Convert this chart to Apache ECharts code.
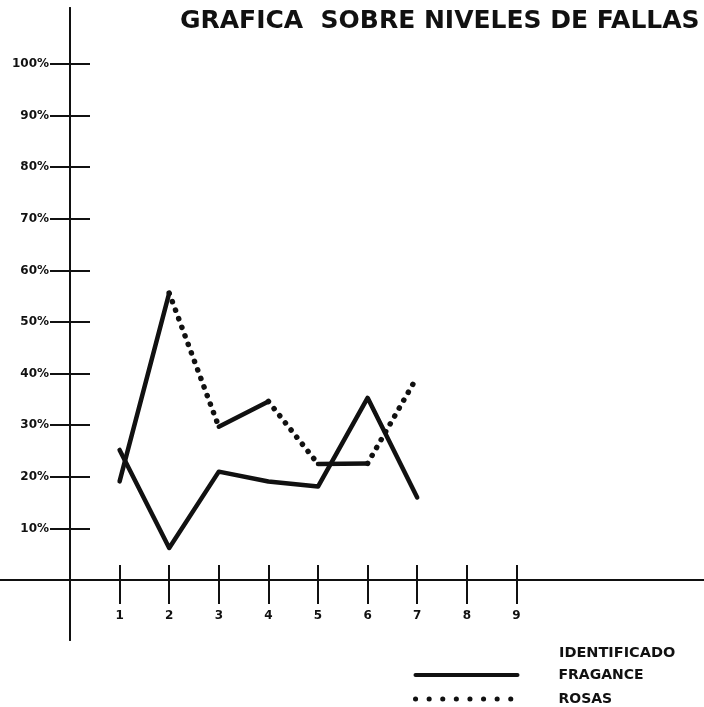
<!DOCTYPE html>
<html>
<head>
<meta charset="utf-8">
<script src="https://cdn.jsdelivr.net/npm/echarts@6/dist/echarts.min.js"></script>
<style>
html,body{margin:0;padding:0;background:#fff;}
#chart{width:704px;height:707px;}
</style>
</head>
<body>
<div id="chart"></div>
<script>
// ---- data ----
const titleText = 'GRAFICA  SOBRE NIVELES DE FALLAS';
const legendTitle = 'IDENTIFICADO';
const xValues = [1, 2, 3, 4, 5, 6, 7];
const xTickValues = [1, 2, 3, 4, 5, 6, 7, 8, 9];
const yTickValues = [10, 20, 30, 40, 50, 60, 70, 80, 90, 100];
const fragance = [25.2, 6.2, 21.0, 19.1, 18.1, 35.3, 16.0];
const rosas = [19.1, 55.6, 29.7, 34.6, 22.5, 22.6, 39.4];
// stroke used for each segment of the ROSAS line as drawn by hand
const rosasSegmentTypes = ['solid', 'dotted', 'solid', 'dotted', 'solid', 'dotted'];

// ---- layout ----
const INK = '#111';
const FONT = 'DejaVu Sans';
const X_MIN = -70 / 49.6, X_MAX = (704 - 70) / 49.6;
const Y_MAX = (580 - 8) / 5.16, Y_MIN = -(640 - 580) / 5.16;
const DOT_TYPE = [0.1, 9];

const series = [{
  name: 'FRAGANCE',
  type: 'line',
  symbol: 'none',
  data: xValues.map((x, i) => [x, fragance[i]]),
  lineStyle: { color: INK, width: 4.5, join: 'round', cap: 'round' },
  z: 3
}];
rosasSegmentTypes.forEach((t, i) => {
  series.push({
    name: 'ROSAS',
    type: 'line',
    symbol: 'none',
    data: [[xValues[i], rosas[i]], [xValues[i + 1], rosas[i + 1]]],
    lineStyle: t === 'solid'
      ? { color: INK, width: 4.5, cap: 'round', type: 'solid' }
      : { color: INK, width: 5.5, cap: 'round', type: DOT_TYPE },
    z: 3
  });
});

const labelFont = { fontFamily: FONT, fontSize: 12, fontWeight: 'bold', color: INK };

const chart = echarts.init(document.getElementById('chart'), null, { renderer: 'canvas' });
chart.setOption({
  backgroundColor: '#fff',
  animation: false,
  title: [{
    text: titleText,
    left: 175, top: 4,
    textStyle: { fontFamily: FONT, fontSize: 25, fontWeight: 'bold', color: INK }
  }, {
    text: legendTitle,
    left: 554, top: 641,
    textStyle: { fontFamily: FONT, fontSize: 14.5, fontWeight: 'bold', color: INK }
  }],
  legend: {
    orient: 'vertical',
    left: 413, top: 668,
    padding: 0,
    itemWidth: 102, itemHeight: 14, itemGap: 10,
    itemStyle: { opacity: 0 },
    textStyle: { fontFamily: FONT, fontSize: 14, fontWeight: 'bold', color: INK, padding: [0, 0, 0, 36] },
    data: [
      { name: 'FRAGANCE', lineStyle: { color: INK, width: 4, type: 'solid' } },
      { name: 'ROSAS', lineStyle: { color: INK, width: 5, type: [0.1, 13.5], cap: 'round' } }
    ]
  },
  grid: [
    { left: 0, right: 0, top: 8, bottom: 67, containLabel: false, outerBoundsMode: 'none' },
    { left: 70, right: 0, top: 8, bottom: 127, containLabel: false, outerBoundsMode: 'none' }
  ],
  xAxis: [{
    gridIndex: 0, type: 'value', min: X_MIN, max: X_MAX,
    axisLine: { onZero: true, lineStyle: { color: INK, width: 2 } },
    axisTick: { show: true, inside: false, length: 24, customValues: xTickValues, lineStyle: { color: INK, width: 2 } },
    axisLabel: { show: false },
    splitLine: { show: false }
  }, {
    gridIndex: 0, type: 'value', min: X_MIN, max: X_MAX, position: 'bottom',
    axisLine: { onZero: true, lineStyle: { color: INK, width: 2 } },
    axisTick: { show: true, inside: true, length: 15, customValues: xTickValues, lineStyle: { color: INK, width: 2 } },
    axisLabel: { show: false },
    splitLine: { show: false }
  }, {
    gridIndex: 1, type: 'value', min: 0, max: X_MAX, position: 'bottom',
    axisLine: { show: false }, axisTick: { show: false }, splitLine: { show: false },
    axisLabel: Object.assign({ show: true, customValues: xTickValues, margin: 30 }, labelFont)
  }],
  yAxis: [{
    gridIndex: 0, type: 'value', min: Y_MIN, max: Y_MAX,
    axisLine: { onZero: true, lineStyle: { color: INK, width: 2 } },
    axisTick: { show: true, inside: false, length: 20, customValues: yTickValues, lineStyle: { color: INK, width: 2 } },
    axisLabel: { show: false },
    splitLine: { show: false }
  }, {
    gridIndex: 0, type: 'value', min: Y_MIN, max: Y_MAX, position: 'left',
    axisLine: { onZero: true, lineStyle: { color: INK, width: 2 } },
    axisTick: { show: true, inside: true, length: 20, customValues: yTickValues, lineStyle: { color: INK, width: 2 } },
    axisLabel: { show: false },
    splitLine: { show: false }
  }, {
    gridIndex: 1, type: 'value', min: 0, max: Y_MAX, position: 'left',
    axisLine: { show: false }, axisTick: { show: false }, splitLine: { show: false },
    axisLabel: Object.assign({ show: true, customValues: yTickValues, margin: 21, formatter: v => v + '%' }, labelFont)
  }],
  series: series
});
</script>
</body>
</html>
